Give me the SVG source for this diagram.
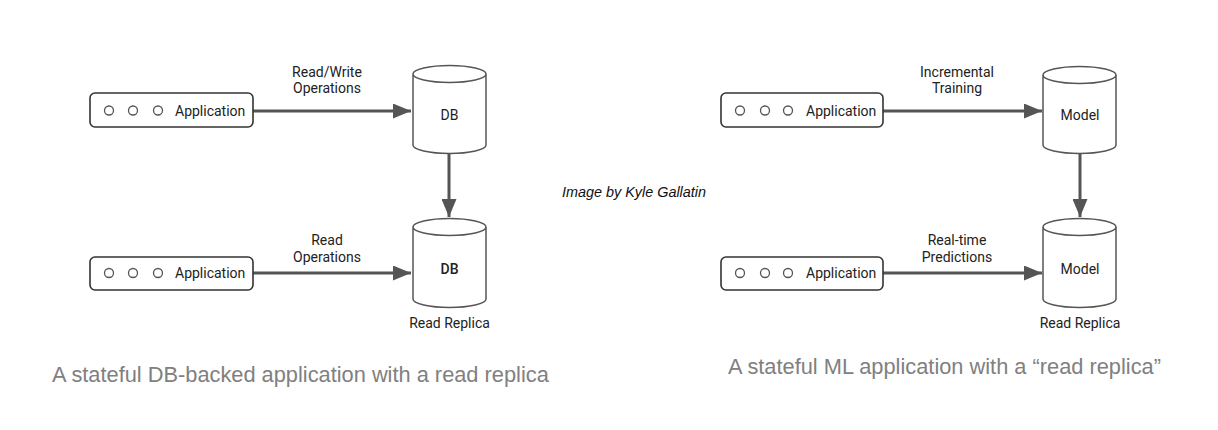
<svg xmlns="http://www.w3.org/2000/svg" width="1218" height="430" viewBox="0 0 1218 430">
<style>
.app{fill:#fff;stroke:#333;stroke-width:1.6}
.dot{fill:#fff;stroke:#555;stroke-width:1.3}
.cyl{fill:#fff;stroke:#555;stroke-width:1.5}
.t{font-family:Roboto,"Liberation Sans",sans-serif;font-size:14px;fill:#222}
.m{text-anchor:middle}
.conn{stroke:#555;stroke-width:3;fill:none;marker-end:url(#ah)}
.cap{font-family:"Liberation Sans",Arial,sans-serif;font-size:21.8px;fill:#808080}
</style>
<defs>
<marker id="ah" markerWidth="6" markerHeight="5" refX="6" refY="2.5" orient="auto" markerUnits="strokeWidth">
<path d="M0,0 L6,2.5 L0,5 Z" fill="#555"/>
</marker>
</defs>
<rect width="1218" height="430" fill="#fff"/>

<g id="connectors">
<line class="conn" x1="253" y1="111" x2="411" y2="111"/>
<line class="conn" x1="449" y1="154" x2="449" y2="217"/>
<line class="conn" x1="253" y1="273" x2="411" y2="273"/>
<line class="conn" x1="883" y1="111" x2="1042" y2="111"/>
<line class="conn" x1="1080" y1="154" x2="1080" y2="217"/>
<line class="conn" x1="883" y1="273" x2="1042" y2="273"/>
<text class="t m" x="327" y="77">Read/Write</text>
<text class="t m" x="327" y="93">Operations</text>
<text class="t m" x="327" y="245">Read</text>
<text class="t m" x="327" y="262">Operations</text>
<text class="t m" x="957" y="77">Incremental</text>
<text class="t m" x="957" y="93">Training</text>
<text class="t m" x="957" y="245">Real-time</text>
<text class="t m" x="957" y="262">Predictions</text>
</g>

<g id="app1">
<rect class="app" x="90" y="93" width="163" height="34" rx="5"/>
<circle class="dot" cx="109" cy="110.5" r="4.5"/>
<circle class="dot" cx="133" cy="110.5" r="4.5"/>
<circle class="dot" cx="158" cy="110.5" r="4.5"/>
<text class="t" x="175" y="116">Application</text>
</g>
<g id="app2">
<rect class="app" x="90" y="257" width="163" height="33" rx="5"/>
<circle class="dot" cx="109" cy="273" r="4.5"/>
<circle class="dot" cx="133" cy="273" r="4.5"/>
<circle class="dot" cx="158" cy="273" r="4.5"/>
<text class="t" x="175" y="278">Application</text>
</g>
<g id="app3">
<rect class="app" x="721" y="93" width="162" height="34" rx="5"/>
<circle class="dot" cx="740" cy="110.5" r="4.5"/>
<circle class="dot" cx="765" cy="110.5" r="4.5"/>
<circle class="dot" cx="788" cy="110.5" r="4.5"/>
<text class="t" x="806" y="116">Application</text>
</g>
<g id="app4">
<rect class="app" x="721" y="257" width="162" height="33" rx="5"/>
<circle class="dot" cx="740" cy="273" r="4.5"/>
<circle class="dot" cx="765" cy="273" r="4.5"/>
<circle class="dot" cx="788" cy="273" r="4.5"/>
<text class="t" x="806" y="278">Application</text>
</g>

<g id="db1">
<path class="cyl" d="M413,74 A36.5,8.5 0 0 1 486,74 V145 A36.5,8.5 0 0 1 413,145 Z M413,74 A36.5,8.5 0 0 0 486,74"/>
<text class="t m" x="449.5" y="120">DB</text>
</g>
<g id="db2">
<path class="cyl" d="M413,227 A36.5,8.5 0 0 1 486,227 V299 A36.5,8.5 0 0 1 413,299 Z M413,227 A36.5,8.5 0 0 0 486,227"/>
<text class="t m" x="449.5" y="274" font-weight="500">DB</text>
<text class="t m" x="449.5" y="328">Read Replica</text>
</g>
<g id="model1">
<path class="cyl" d="M1043,75 A36.5,8.5 0 0 1 1116,75 V145 A36.5,8.5 0 0 1 1043,145 Z M1043,75 A36.5,8.5 0 0 0 1116,75"/>
<text class="t m" x="1080" y="120">Model</text>
</g>
<g id="model2">
<path class="cyl" d="M1043,227 A36.5,8.5 0 0 1 1116,227 V299 A36.5,8.5 0 0 1 1043,299 Z M1043,227 A36.5,8.5 0 0 0 1116,227"/>
<text class="t m" x="1080" y="274">Model</text>
<text class="t m" x="1080" y="328">Read Replica</text>
</g>

<text x="634" y="197" text-anchor="middle" font-family="'Liberation Sans',Arial,sans-serif" font-size="14.4" font-style="italic" fill="#111">Image by Kyle Gallatin</text>
<text class="cap" x="52" y="382">A stateful DB-backed application with a read replica</text>
<text class="cap" x="728" y="374">A stateful ML application with a “read replica”</text>
</svg>
